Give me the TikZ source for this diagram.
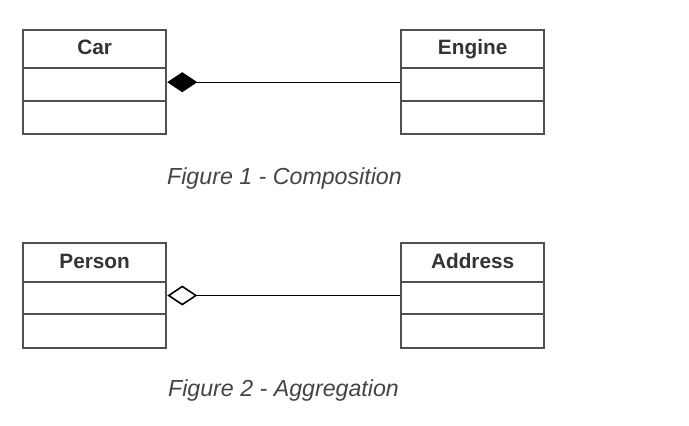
\documentclass[tikz,border=0pt]{standalone}
\usepackage{fontspec}
\setmainfont{Liberation Sans}
\usetikzlibrary{arrows.meta}
\definecolor{boxgray}{HTML}{505050}
\definecolor{txtgray}{HTML}{333333}
\definecolor{capgray}{HTML}{444444}
\begin{document}
\begin{tikzpicture}[x=0.5pt,y=-0.5pt,
  part/.style={draw=boxgray, line width=1.15pt, minimum width=71.5pt, inner sep=0pt, anchor=north west, text=txtgray, font=\fontsize{10.4pt}{12pt}\selectfont\bfseries, text height=8pt, text depth=2pt},
  link/.style={draw=black, line width=0.55pt},
  caption/.style={text=capgray, font=\fontsize{11.6pt}{14pt}\selectfont\itshape, inner sep=0pt}]
\useasboundingbox (0,0) rectangle (689,425);
% Car
\node[part, minimum height=18.75pt] (carhead) at (22,29) {Car};
\node[part, minimum height=16.75pt] (carmid) at (22,66.5) {};
\node[part, minimum height=16.5pt] (carbot) at (22,100) {};
% Engine
\node[part, minimum height=18.75pt] (enghead) at (400,29) {Engine};
\node[part, minimum height=16.75pt] (engmid) at (400,66.5) {};
\node[part, minimum height=16.5pt] (engbot) at (400,100) {};
\draw[link, {Diamond[length=15pt, width=10pt]}-] ([yshift=1.1pt]carmid.east) -- ([yshift=1.1pt]engmid.west);
\node[caption] (cap1) at (284.5,178.5) {Figure 1 - Composition};
% Person
\node[part, minimum height=19.5pt] (perhead) at (22,241.5) {Person};
\node[part, minimum height=16.25pt] (permid) at (22,280.5) {};
\node[part, minimum height=16.75pt] (perbot) at (22,313) {};
% Address
\node[part, minimum height=19.5pt] (addhead) at (400,241.5) {Address};
\node[part, minimum height=16.25pt] (addmid) at (400,280.5) {};
\node[part, minimum height=16.75pt] (addbot) at (400,313) {};
\draw[link, {Diamond[open, length=15pt, width=10pt, line width=0.8pt]}-] ([yshift=1.2pt]permid.east) -- ([yshift=1.2pt]addmid.west);
\node[caption] (cap2) at (283.5,390) {Figure 2 - Aggregation};
\end{tikzpicture}
\end{document}
